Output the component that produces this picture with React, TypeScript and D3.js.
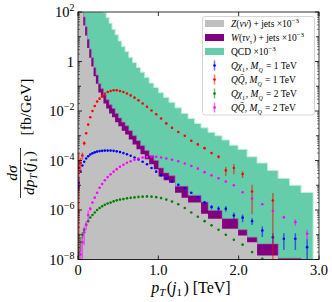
import React from "react";
import * as d3 from "d3";

// variable-width bins in TeV
const binEdges = [
  0, 0.021, 0.043, 0.066, 0.089, 0.114, 0.14, 0.166, 0.194, 0.223, 0.253, 0.285, 0.317, 0.351, 0.387,
  0.424, 0.462, 0.502, 0.544, 0.587, 0.632, 0.679, 0.728, 0.778, 0.831, 0.886, 0.944, 1.003, 1.066,
  1.133, 1.208, 1.289, 1.37, 1.451, 1.532, 1.619, 1.706, 1.793, 1.887, 1.993, 2.105, 2.229, 2.36,
  2.491, 2.634, 2.777, 2.927,
];

// log10 of dσ/dpT per bin (null = below the axis)
const qcdLog = [
  4.5, 4.2, 3.9, 3.7, 3.5, 3.2, 3.0, 2.8, 2.6, 2.45, 2.3, 2.12,
  1.97, 1.78, 1.55, 1.3, 1.08, 0.83, 0.6, 0.4, 0.17, -0.04, -0.24, -0.43, -0.65, -0.87, -1.05,
  -1.26, -1.45, -1.65, -1.87, -2.1, -2.3, -2.5, -2.68, -2.86, -3.0, -3.17, -3.38, -3.55, -3.85,
  -4.1, -4.4, -4.72, -5.0, -5.29,
];
const wLog = [
  4.2, 3.5, 2.8,
  1.8, 1.4, 0.9, 0.5, 0.15, -0.25, -0.55, -0.9, -1.1, -1.35, -1.55, -1.75, -1.9, -2.1, -2.28,
  -2.45, -2.6, -2.8, -3.0, -3.2, -3.4, -3.6, -3.8, -4.0,
  -4.3, -4.5, -4.62, -5.04, -5.04, -5.41, -5.41, -5.68, -6.02, -6.02, -6.35, -6.35, -6.8, -7.1,
  -7.37, -7.37, -7.95, -7.95, null,
];
const zLog = [
  4.0, 3.2, 2.4,
  1.45, 1.05, 0.55, 0.15, -0.2, -0.6, -0.9, -1.25, -1.45, -1.7, -1.9, -2.1, -2.25, -2.45, -2.62,
  -2.8, -2.95, -3.15, -3.35, -3.55, -3.75, -3.95, -4.15, -4.35,
  -4.65, -4.8, -4.9, -5.3, -5.5, -5.7, -5.7, -6.15, -6.35, -6.35, -6.76, -6.76, -7.03, -7.3,
  -7.84, -7.84, null, null, null,
];

// signal points at bin centres: log10 value and relative error
const qchi1Log = [
  -4.9, -4.45, -4.2, -4.05, -3.92, -3.83, -3.76, -3.71, -3.67, -3.64, -3.62, -3.61, -3.6, -3.6,
  -3.6, -3.61, -3.63, -3.66, -3.7, -3.75, -3.81, -3.88, -3.96, -4.05, -4.15, -4.3, -4.45, -4.6,
  -4.72, -4.85, -4.98, -5.12, -5.3, -5.5, -5.7, -5.88, -5.95, -5.95, -6.22, -6.31, -6.45, -6.83,
  -7.1, -7.16, -7.16, -7.5,
];
const qchi1Err = [
  0.5, 0, 0, 0, 0, 0, 0, 0, 0, 0, 0, 0, 0, 0, 0, 0, 0, 0, 0, 0, 0, 0, 0, 0, 0, 0, 0, 0, 0, 0, 0,
  0, 0, 0.1, 0.15, 0.2, 0.25, 0.25, 0.3, 0.35, 0.3, 0.45, 0.45, 0.65, 0.65, 1.1,
];
const qq1Log = [
  -4.3, -4.1, -3.8, -3.3, -2.9, -2.55, -2.25, -2.0, -1.8, -1.62, -1.5, -1.4, -1.3, -1.23, -1.19,
  -1.16, -1.16, -1.19, -1.23, -1.29, -1.37, -1.46, -1.57, -1.7, -1.83, -1.98, -2.13, -2.3, -2.5,
  -2.68, -2.85, -3.0, -3.2, -3.35, -3.5, -3.7, -3.85, -4.4, -4.3, -4.55, -5.25, null, -5.62, null,
  null, null,
];
const qq1Err = [
  3, 0.6, 0.3, 0.2, 0, 0, 0, 0, 0, 0, 0, 0, 0, 0, 0, 0, 0, 0, 0, 0, 0, 0, 0, 0, 0, 0, 0, 0, 0, 0,
  0, 0, 0, 0, 0, 0, 0.15, 0.4, 0.45, 0.3, 0.88, 0, 1.05, 0, 0, 0,
];
const qchi2Log = [
  -7.8, -7.3, -7.0, -6.8, -6.6, -6.45, -6.3, -6.2, -6.1, -6.0, -5.92, -5.85, -5.79, -5.74, -5.7,
  -5.65, -5.61, -5.58, -5.56, -5.53, -5.51, -5.49, -5.47, -5.46, -5.45, -5.46, -5.48, -5.52,
  -5.58, -5.66, -5.77, -5.92, -6.1, -6.27, -6.45, -6.62, -6.8, -7.0, -7.2, -7.4, -7.7, -7.97,
  null, null, null, null,
];
const qchi2Err = [
  1.2, 0.6, 0.3, 0.15, 0, 0, 0, 0, 0, 0, 0, 0, 0, 0, 0, 0, 0, 0, 0, 0, 0, 0, 0, 0, 0, 0, 0, 0, 0,
  0, 0, 0, 0, 0, 0, 0, 0, 0, 0, 0, 0, 0, 0, 0, 0, 0,
];
const qq2Log = [
  null, -7.8, -7.3, -6.9, -6.6, -6.2, -5.95, -5.7, -5.5, -5.3, -5.1, -4.95, -4.8, -4.67, -4.56,
  -4.45, -4.35, -4.25, -4.17, -4.09, -4.03, -3.97, -3.92, -3.88, -3.86, -3.84, -3.85, -3.88,
  -3.92, -3.97, -4.03, -4.12, -4.22, -4.33, -4.47, -4.6, -4.72, -4.85, -5.0, -5.28, -5.54, -5.77,
  -6.04, -6.29, -6.49, -6.96,
];
const qq2Err = [
  0, 1.5, 0.9, 0.7, 0.4, 0.5, 0.2, 0, 0, 0, 0, 0, 0, 0, 0, 0, 0, 0, 0, 0, 0, 0, 0, 0, 0, 0, 0, 0,
  0, 0, 0, 0, 0, 0, 0, 0, 0, 0, 0, 0, 0, 0, 0.1, 0.15, 0.3, 0.45,
];

const xTicks = [0, 1, 2, 3];
const xTickLabels = ["0", "1.0", "2.0", "3.0"];
const yDecades = [-8, -7, -6, -5, -4, -3, -2, -1, 0, 1, 2];
const yLabelled = [-8, -6, -4, -2, 0, 2];

const M = { left: 78, right: 319, top: 12, bottom: 259.5 };
const FONT = "'Liberation Serif', 'DejaVu Serif', serif";

const colors = {
  z: "#c0c0c0",
  w: "#800080",
  qcd: "#66cdaa",
  qchi1: "#0000ff",
  qq1: "#ff0000",
  qchi2: "#008000",
  qq2: "#ff00ff",
};

const Sub = ({ children, size = 7, dy = 2.5 }) => (
  <>
    <tspan dy={dy} fontSize={size}>
      {children}
    </tspan>
    <tspan dy={-dy}>{"\u200a"}</tspan>
  </>
);
const Sup = ({ children, size = 7, dy = -4 }) => (
  <>
    <tspan dy={dy} fontSize={size}>
      {children}
    </tspan>
    <tspan dy={-dy}>{"\u200a"}</tspan>
  </>
);
const I = ({ children }) => <tspan fontStyle="italic">{children}</tspan>;

export default function App() {
  const x = d3.scaleLinear().domain([0, 3]).range([M.left, M.right]);
  const y = d3.scaleLog().domain([1e-8, 1e2]).range([M.bottom, M.top]).clamp(true);

  const centres = binEdges.slice(0, -1).map((e, i) => (e + binEdges[i + 1]) / 2);

  const histPath = (vals) => {
    const pts = binEdges.map((e, i) => [e, vals[Math.min(i, vals.length - 1)]]);
    return d3
      .area()
      .curve(d3.curveStepAfter)
      .x((d) => x(d[0]))
      .y0(M.bottom)
      .y1((d) => (d[1] == null ? M.bottom : y(10 ** d[1])))(pts);
  };

  const series = [
    { key: "qchi1", vals: qchi1Log, err: qchi1Err, color: colors.qchi1 },
    { key: "qq1", vals: qq1Log, err: qq1Err, color: colors.qq1 },
    { key: "qchi2", vals: qchi2Log, err: qchi2Err, color: colors.qchi2 },
    { key: "qq2", vals: qq2Log, err: qq2Err, color: colors.qq2 },
  ];

  const minor = [];
  yDecades.slice(0, -1).forEach((d) => {
    for (let k = 2; k <= 9; k++) minor.push(k * 10 ** d);
  });

  const legendRows = [23.5, 37.5, 51.5, 65.5, 79.5, 93.5, 107.5];
  const lx = 231;
  const legendText = [
    <>
      <I>Z</I>(<I>νν̄</I>) + jets ×10<Sup>−3</Sup>
    </>,
    <>
      <I>W</I>(<I>τν</I>
      <Sub size={6}>τ</Sub>) + jets ×10<Sup>−3</Sup>
    </>,
    <>
      QCD ×10<Sup>−3</Sup>
    </>,
    <>
      <I>Qχ</I>
      <Sub size={6}>1</Sub>, <I>M</I>
      <Sub size={6}>
        <tspan fontStyle="italic">Q</tspan>
      </Sub>{" "}
      = 1 TeV
    </>,
    <>
      <I>QQ̄</I>, <I>M</I>
      <Sub size={6}>
        <tspan fontStyle="italic">Q</tspan>
      </Sub>{" "}
      = 1 TeV
    </>,
    <>
      <I>Qχ</I>
      <Sub size={6}>1</Sub>, <I>M</I>
      <Sub size={6}>
        <tspan fontStyle="italic">Q</tspan>
      </Sub>{" "}
      = 2 TeV
    </>,
    <>
      <I>QQ̄</I>, <I>M</I>
      <Sub size={6}>
        <tspan fontStyle="italic">Q</tspan>
      </Sub>{" "}
      = 2 TeV
    </>,
  ];

  return (
    <svg
      width={332}
      height={302}
      style={{ position: "absolute", left: 0, top: 0, background: "#fff" }}
      fontFamily={FONT}
    >
      <defs>
        <clipPath id="plot-clip">
          <rect x={M.left} y={M.top} width={M.right - M.left} height={M.bottom - M.top} />
        </clipPath>
      </defs>

      {/* background histograms */}
      <g clipPath="url(#plot-clip)">
        <path d={histPath(qcdLog)} fill={colors.qcd} stroke="#c2eedd" strokeWidth={1} />
        <path d={histPath(wLog)} fill={colors.w} stroke="#a860a8" strokeWidth={0.6} />
        <path d={histPath(zLog)} fill={colors.z} />

        {/* signal error bars + points */}
        {series.map((s) => (
          <g key={s.key}>
            {s.vals.map((v, i) => {
              if (v == null || !s.err[i]) return null;
              const val = 10 ** v;
              const r = s.err[i];
              const y1 = y(val * (1 + r));
              const y2 = r >= 1 ? M.bottom : y(val * (1 - r));
              return (
                <line
                  key={i}
                  x1={x(centres[i])}
                  x2={x(centres[i])}
                  y1={y1}
                  y2={y2}
                  stroke={s.color}
                  strokeOpacity={0.55}
                  strokeWidth={1.5}
                />
              );
            })}
            {s.vals.map((v, i) =>
              v == null ? null : (
                <circle key={i} cx={x(centres[i])} cy={y(10 ** v)} r={1.3} fill={s.color} />
              )
            )}
          </g>
        ))}
      </g>

      {/* frame */}
      <rect
        x={M.left}
        y={M.top}
        width={M.right - M.left}
        height={M.bottom - M.top}
        fill="none"
        stroke="#000"
        strokeWidth={0.8}
      />

      {/* x ticks */}
      {xTicks.map((t, i) => (
        <g key={t}>
          <line x1={x(t)} x2={x(t)} y1={M.bottom} y2={M.bottom - 4} stroke="#000" strokeWidth={0.8} />
          <line x1={x(t)} x2={x(t)} y1={M.top} y2={M.top + 4} stroke="#000" strokeWidth={0.8} />
          <text x={x(t)} y={275} textAnchor="middle" fontSize={14.5}>
            {xTickLabels[i]}
          </text>
        </g>
      ))}

      {/* y ticks */}
      {yDecades.map((d) => {
        const yy = y(10 ** d);
        const len = yLabelled.includes(d) ? 4 : 3;
        return (
          <g key={d}>
            <line x1={M.left} x2={M.left + len} y1={yy} y2={yy} stroke="#000" strokeWidth={0.8} />
            <line x1={M.right} x2={M.right - len} y1={yy} y2={yy} stroke="#000" strokeWidth={0.8} />
          </g>
        );
      })}
      {minor.map((m, i) => (
        <g key={i}>
          <line x1={M.left} x2={M.left + 2} y1={y(m)} y2={y(m)} stroke="#000" strokeWidth={0.5} />
          <line x1={M.right} x2={M.right - 2} y1={y(m)} y2={y(m)} stroke="#000" strokeWidth={0.5} />
        </g>
      ))}
      {yLabelled.map((d) => {
        const yy = y(10 ** d);
        if (d === 0)
          return (
            <text key={d} x={74} y={yy + 5} textAnchor="end" fontSize={14.5}>
              1
            </text>
          );
        return (
          <text key={d} x={74.5} y={yy + 5} textAnchor="end" fontSize={14.5}>
            10
            <tspan dy={-6} fontSize={10}>
              {d < 0 ? `−${-d}` : `${d}`}
            </tspan>
          </text>
        );
      })}

      {/* axis labels */}
      <text x={191} y={293} textAnchor="middle" fontSize={16}>
        <I>p</I>
        <Sub size={11} dy={3}>
          <tspan fontStyle="italic">T</tspan>
        </Sub>
        (<I>j</I>
        <Sub size={11} dy={3}>
          1
        </Sub>
        ) [TeV]
      </text>

      <text transform="translate(31,107) rotate(-90)" textAnchor="middle" fontSize={15.5}>
        [fb/GeV]
      </text>
      <text transform="translate(17,173) rotate(-90)" textAnchor="middle" fontSize={15.5}>
        <I>dσ</I>
      </text>
      <line x1={20.5} x2={20.5} y1={148} y2={198} stroke="#000" strokeWidth={0.8} />
      <text transform="translate(34,173) rotate(-90)" textAnchor="middle" fontSize={15.5}>
        <I>dp</I>
        <Sub size={10.5} dy={3}>
          <tspan fontStyle="italic">T</tspan>
        </Sub>
        (<I>j</I>
        <Sub size={10.5} dy={3}>
          1
        </Sub>
        )
      </text>

      {/* legend */}
      <rect
        x={202.5}
        y={16.5}
        width={112}
        height={98.5}
        rx={2.5}
        fill="#fff"
        fillOpacity={0.8}
        stroke="#cccccc"
        strokeWidth={0.8}
      />
      <rect x={205} y={legendRows[0] - 3.5} width={19} height={7} fill={colors.z} />
      <rect x={205} y={legendRows[1] - 3.5} width={19} height={7} fill={colors.w} />
      <rect x={205} y={legendRows[2] - 3.5} width={19} height={7} fill={colors.qcd} />
      {series.map((s, i) => {
        const cy = legendRows[3 + i];
        return (
          <g key={s.key}>
            <line x1={214.5} x2={214.5} y1={cy - 5} y2={cy + 5} stroke={s.color} strokeOpacity={0.55} strokeWidth={1.5} />
            <circle cx={214.5} cy={cy} r={1.3} fill={s.color} />
          </g>
        );
      })}
      {legendText.map((t, i) => (
        <text key={i} x={lx} y={legendRows[i] + 3.5} fontSize={9.5}>
          {t}
        </text>
      ))}
    </svg>
  );
}
